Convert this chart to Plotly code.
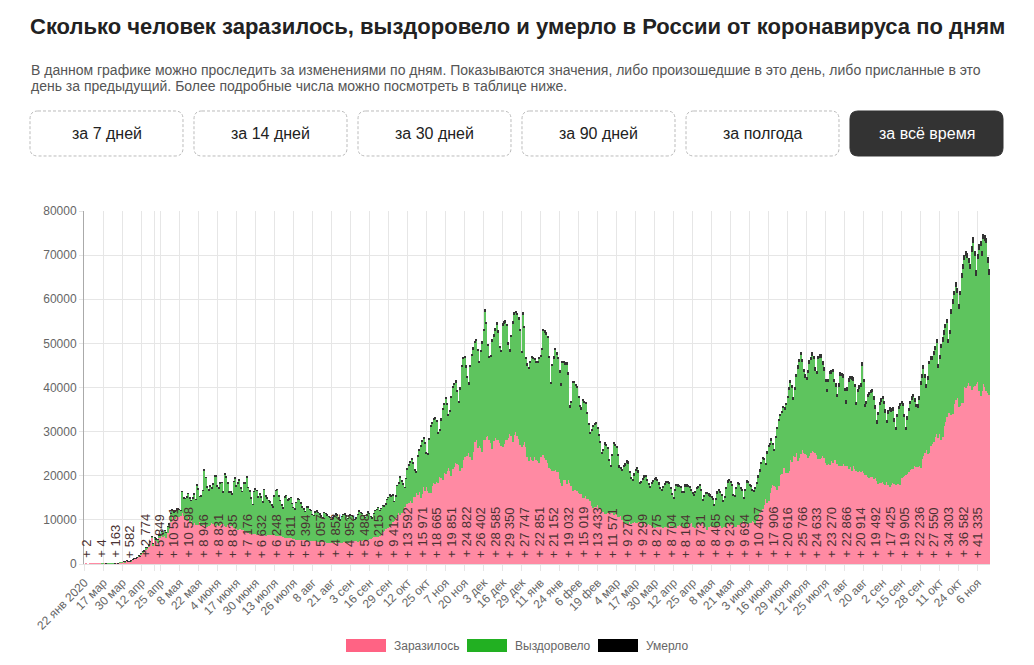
import plotly.graph_objects as go

# daily values, one entry per category (22 Jan 2020 ... 14 Nov 2021)
infected = [
    0, 2, 1, 1, 6, 3, 4, 3, 8, 6,
    11, 4, 30, 21, 33, 52, 54, 53, 61, 71,
    57, 163, 182, 196, 228, 270, 302, 500, 440, 771,
    601, 582, 658, 954, 1154, 1175, 1459, 1786, 1667, 2186,
    2558, 2774, 3388, 3448, 4070, 4785, 6060, 4268, 5642, 5236,
    4774, 5849, 5966, 6361, 6198, 6411, 5841, 7099, 7933, 9623,
    10633, 10581, 10102, 10559, 11231, 10699, 10817, 11656, 10899, 10028,
    9974, 10598, 9200, 9709, 8926, 9263, 8764, 8849, 8894, 9434,
    8599, 8946, 8915, 8338, 8371, 8572, 8952, 9268, 9035, 8863,
    8536, 8831, 8726, 8855, 8984, 8985, 8595, 8404, 8779, 8987,
    8706, 8835, 8246, 8248, 7843, 7790, 7972, 7889, 7728, 7600,
    7425, 7176, 7113, 6800, 6852, 6791, 6719, 6693, 6556, 6760,
    6718, 6632, 6736, 6611, 6368, 6562, 6509, 6635, 6611, 6615,
    6537, 6248, 6422, 6428, 6406, 6234, 6109, 5940, 5842, 5862,
    5848, 5811, 5871, 5765, 5635, 5475, 5395, 5509, 5482, 5462,
    5427, 5394, 5159, 5204, 5267, 5241, 5212, 5189, 5118, 5102,
    5041, 5057, 5061, 5065, 4969, 4892, 4748, 4790, 4767, 4870,
    4921, 4852, 4969, 4676, 4696, 4711, 4829, 4980, 4897, 4729,
    4729, 4952, 4995, 5110, 5205, 5195, 5185, 5099, 5218, 5363,
    5310, 5488, 5449, 5509, 5529, 5670, 5762, 5905, 6065, 6148,
    6196, 6215, 6431, 6595, 7212, 7523, 7867, 8135, 8232, 8481,
    8945, 9412, 9859, 10499, 10888, 11615, 11115, 11493, 12126, 12846,
    13634, 13592, 13868, 14231, 13754, 15150, 15099, 15982, 15700, 16319,
    14922, 15971, 17340, 16521, 17347, 16550, 16202, 16202, 17717, 18283,
    18140, 18665, 18257, 19768, 19404, 19089, 20582, 20498, 20977, 21798,
    20977, 19851, 21608, 21983, 22778, 22572, 22410, 20985, 21798, 23610,
    24318, 24822, 24581, 25173, 24326, 23675, 25487, 27543, 28145, 26338,
    26683, 26402, 25345, 28145, 28209, 28782, 29039, 28142, 27410, 26097,
    27927, 28585, 28137, 28080, 27328, 26689, 26509, 27215, 28214, 28209,
    28552, 29350, 28948, 27671, 29258, 29935, 29018, 28284, 27039, 26513,
    27002, 27747, 26513, 24246, 23351, 24150, 23541, 23309, 24217, 23652,
    23309, 22851, 24217, 24715, 24763, 24092, 23541, 22857, 21734, 21513,
    21127, 21152, 21262, 20921, 20766, 19290, 18359, 17741, 19138, 19106,
    18241, 19032, 18359, 17648, 16643, 16714, 16688, 16627, 16048, 15916,
    15977, 15019, 14861, 15419, 14726, 14711, 14185, 13233, 12742, 12828,
    12953, 13433, 12742, 12604, 12022, 11823, 11359, 11440, 11534, 11611,
    11534, 11571, 11024, 11385, 11279, 10595, 10565, 10867, 9908, 9445,
    9079, 9270, 9150, 9437, 8998, 9284, 9437, 9195, 9215, 9632,
    9445, 9299, 8711, 9195, 9128, 8769, 9073, 8885, 8646, 8277,
    8162, 8275, 8306, 8316, 8317, 8294, 8061, 8328, 8304, 8173,
    8995, 8704, 8702, 8328, 8442, 8173, 8632, 8788, 8697, 8719,
    8053, 8164, 8271, 9073, 8995, 9270, 8367, 8380, 8195, 8807,
    8974, 8731, 9270, 9284, 8697, 8419, 7770, 8328, 8702, 8387,
    8419, 8465, 8380, 8556, 8947, 8554, 8217, 8457, 8331, 8489,
    8962, 9232, 9280, 8926, 8951, 8387, 8373, 8832, 8947, 9252,
    9299, 9694, 9268, 9035, 9145, 9338, 9282, 9633, 9619, 8961,
    9651, 10407, 11571, 11699, 12505, 13397, 14723, 13721, 14185, 16000,
    17262, 17906, 17611, 17378, 16715, 17594, 20182, 20393, 21665, 21658,
    20538, 20616, 21042, 23543, 23218, 24439, 24353, 25142, 23378, 23962,
    24818, 25766, 25082, 25018, 24702, 23947, 24439, 25116, 25704, 25293,
    25140, 24633, 23770, 23811, 24072, 24471, 23947, 22804, 22420, 22589,
    22420, 23270, 22804, 23564, 23508, 22589, 22116, 22120, 22144, 22660,
    22277, 22866, 22136, 21571, 21932, 21000, 22118, 21624, 21057, 20765,
    20992, 20914, 21058, 20564, 20112, 20185, 19630, 19509, 19706, 19630,
    19286, 19492, 18780, 18191, 18325, 18341, 18555, 18080, 17856, 18645,
    17856, 17425, 17837, 18341, 18178, 17946, 18063, 18178, 17911, 19454,
    19706, 19905, 20174, 20329, 20960, 21379, 21559, 21438, 22320, 21916,
    22056, 22236, 21744, 23888, 24522, 25110, 25781, 24932, 25133, 26821,
    27246, 27550, 28717, 29362, 28647, 29409, 28190, 28717, 31299, 32196,
    33208, 34303, 34325, 33740, 34073, 36339, 37141, 37678, 35660, 35811,
    36446, 36582, 40096, 39849, 40251, 40993, 40402, 39400, 40217, 40443,
    40735, 41335, 39165, 38058, 39160, 40759, 40123, 39256, 38823, 38300,
]

recovered = [
    0, 0, 0, 0, 0, 0, 0, 0, 0, 0,
    0, 0, 2, 1, 0, 1, 4, 1, 6, 5,
    7, 19, 0, 15, 21, 15, 21, 21, 17, 45,
    25, 45, 35, 120, 57, 58, 80, 57, 109, 121,
    224, 171, 239, 293, 224, 306, 164, 300, 350, 400,
    800, 700, 580, 900, 700, 1100, 1200, 1400, 1100, 1800,
    1600, 1200, 1700, 1900, 1300, 1600, 1200, 4700, 4000, 4800,
    5200, 5300, 5700, 4700, 6000, 6500, 5800, 9000, 8000, 5800,
    6800, 7700, 12300, 11200, 9000, 8000, 8600, 7900, 9000, 11000,
    11300, 8800, 8400, 9500, 9400, 7300, 11700, 11200, 9500, 7300,
    7600, 7000, 10400, 11100, 9800, 10500, 10900, 9200, 8700, 10700,
    10900, 12400, 10200, 9600, 8000, 6600, 9700, 10200, 10000, 8400,
    9000, 8500, 7300, 10200, 9000, 8300, 7800, 7400, 6700, 6200,
    8800, 10400, 10400, 8900, 7900, 7100, 6500, 9200, 9600, 8600,
    8800, 9200, 7800, 7000, 6800, 8400, 9300, 9000, 8200, 7400,
    7000, 6500, 7700, 7600, 7000, 6800, 6000, 5700, 6600, 6800,
    6600, 6200, 5800, 5400, 6600, 6500, 6300, 5900, 5700, 5200,
    5500, 6000, 6300, 6400, 5700, 5200, 5900, 6200, 6400, 6200,
    5500, 6000, 6100, 5800, 5500, 4900, 5200, 6100, 6700, 6300,
    6100, 5400, 5000, 5600, 6200, 5700, 4900, 4500, 5300, 6000,
    6200, 6500, 5600, 5900, 6000, 5600, 5600, 6500, 6800, 7000,
    6400, 6200, 4200, 4900, 6800, 6700, 8400, 7300, 5900, 4400,
    5700, 7800, 8400, 8700, 9900, 7600, 6200, 4700, 8600, 9500,
    11800, 11700, 11200, 10800, 7800, 8200, 12000, 15000, 14200, 14400,
    14900, 13600, 11400, 10400, 13200, 16000, 15500, 16900, 15100, 11800,
    13600, 17800, 18400, 18600, 18400, 16500, 14200, 18600, 22800, 22900,
    22400, 19700, 17700, 15600, 20300, 23400, 23100, 22500, 22400, 21900,
    18800, 21600, 24600, 24600, 29000, 25600, 20400, 18500, 19500, 24300,
    23500, 24300, 26100, 24300, 21600, 21300, 27500, 27200, 26400, 25700,
    21100, 18800, 22500, 26800, 27200, 26900, 27400, 27100, 25700, 21300,
    29400, 25700, 19900, 20700, 20800, 21400, 23200, 23200, 22000, 21800,
    22200, 23700, 22700, 23700, 28000, 28300, 28400, 28400, 25000, 19200,
    23700, 25300, 27200, 26500, 25700, 24100, 22200, 27700, 26400, 26000,
    26900, 23900, 17100, 18800, 24400, 24200, 23600, 23200, 21600, 19600,
    19100, 21900, 21600, 20800, 19200, 16800, 15300, 16800, 18200, 18700,
    18800, 17100, 16300, 15000, 13000, 13800, 15800, 15300, 14500, 11800,
    10600, 13000, 16100, 15400, 15100, 13900, 11400, 10800, 11300, 12600,
    13300, 13800, 13700, 11200, 10300, 9700, 10700, 11900, 12400, 11200,
    8800, 9100, 10400, 10500, 10600, 10100, 9000, 8500, 9500, 10400,
    10900, 11000, 10600, 9800, 8800, 8400, 9300, 9600, 10200, 10200,
    9200, 8400, 7100, 6500, 8200, 9600, 9000, 8700, 8700, 7400,
    8100, 9500, 9400, 8400, 8400, 7400, 7600, 7100, 7900, 8300,
    8400, 9100, 7400, 5200, 6500, 7500, 8200, 7300, 6700, 6700,
    6200, 4900, 6300, 7500, 7700, 7600, 7300, 5600, 6800, 8600,
    9600, 9700, 9100, 8900, 6600, 6800, 8800, 9400, 9000, 7800,
    7300, 5100, 7400, 9500, 9300, 8500, 8300, 7000, 6700, 8200,
    8500, 9300, 9500, 11000, 11300, 10200, 7900, 11400, 12400, 11000,
    10800, 9100, 8100, 11200, 13800, 14800, 13300, 13800, 13600, 13200,
    15400, 16900, 18300, 17400, 16600, 12700, 15000, 17200, 20900, 21900,
    22500, 20000, 18400, 17200, 17000, 19300, 20900, 21100, 21500, 21100,
    18700, 18400, 22700, 22900, 22700, 20700, 19900, 18400, 16500, 18600,
    20600, 19900, 20600, 17600, 16700, 15200, 18100, 20600, 20400, 19600,
    16900, 13500, 17100, 19700, 20000, 20700, 19400, 18400, 14900, 18200,
    18700, 19300, 23900, 20600, 15400, 16000, 18200, 18700, 19000, 19300,
    17900, 15700, 13000, 15500, 17600, 18400, 18800, 18100, 16400, 13200,
    16200, 17300, 16700, 16400, 14000, 12400, 15200, 16900, 17800, 16800,
    16000, 13300, 10100, 12400, 13700, 14800, 15600, 16300, 14400, 13600,
    13400, 14900, 18900, 18200, 19600, 17000, 14100, 16700, 20100, 19500,
    18900, 19900, 19800, 20700, 15800, 17100, 20800, 21700, 20700, 21300,
    21300, 15700, 17700, 23000, 24900, 24600, 25600, 23700, 22200, 25100,
    28400, 30300, 28700, 30000, 29100, 27300, 26400, 31400, 32600, 29400,
    24600, 27700, 32100, 34000, 30600, 32800, 33100, 33500, 29500, 27300,
]

deaths = [
    0, 0, 0, 0, 0, 0, 0, 0, 0, 0,
    0, 0, 0, 0, 0, 1, 0, 0, 0, 0,
    0, 1, 0, 1, 1, 0, 1, 7, 7, 4,
    4, 9, 2, 11, 11, 13, 13, 12, 18, 12,
    18, 24, 28, 36, 41, 42, 48, 51, 52, 57,
    42, 60, 66, 47, 49, 82, 108, 101, 96, 57,
    58, 76, 86, 86, 98, 88, 70, 94, 107, 96,
    93, 113, 119, 94, 91, 115, 135, 127, 150, 139,
    153, 92, 174, 161, 174, 232, 181, 138, 162, 182,
    178, 169, 144, 197, 134, 112, 171, 216, 174, 181,
    193, 114, 153, 194, 154, 182, 184, 161, 109, 153,
    154, 153, 92, 176, 188, 104, 93, 216, 154, 147,
    168, 168, 135, 104, 173, 198, 174, 186, 188, 130,
    104, 102, 175, 154, 111, 161, 147, 85, 135, 165,
    154, 147, 124, 85, 65, 147, 155, 150, 161, 95,
    70, 77, 144, 129, 129, 114, 70, 70, 77, 130,
    129, 119, 114, 119, 68, 60, 114, 121, 127, 121,
    98, 67, 71, 110, 122, 127, 118, 114, 111, 67,
    55, 123, 110, 121, 129, 104, 56, 114, 119, 112,
    132, 119, 65, 61, 125, 130, 144, 145, 150, 85,
    60, 116, 160, 169, 160, 145, 169, 93, 92, 160,
    186, 201, 186, 117, 121, 202, 239, 244, 201, 186,
    147, 139, 244, 239, 232, 279, 232, 222, 191, 317,
    286, 286, 317, 283, 279, 229, 320, 320, 366, 355,
    320, 245, 239, 320, 386, 378, 374, 349, 286, 256,
    368, 441, 439, 387, 411, 395, 294, 442, 456, 463,
    507, 467, 401, 393, 456, 524, 524, 510, 496, 491,
    569, 589, 589, 554, 496, 491, 499, 562, 561, 563,
    613, 613, 589, 560, 456, 481, 562, 597, 585, 585,
    599, 529, 561, 524, 572, 567, 556, 594, 510, 562,
    599, 570, 589, 504, 464, 482, 496, 510, 535, 550,
    456, 457, 561, 583, 575, 592, 561, 512, 471, 466,
    594, 591, 590, 571, 553, 523, 407, 595, 577, 568,
    559, 527, 481, 523, 532, 534, 506, 527, 513, 471,
    419, 466, 502, 513, 521, 497, 383, 466, 470, 444,
    441, 461, 453, 382, 366, 377, 441, 456, 461, 489,
    390, 408, 466, 427, 441, 452, 411, 364, 392, 437,
    436, 441, 442, 392, 368, 342, 387, 394, 371, 384,
    361, 382, 365, 380, 390, 390, 386, 381, 368, 364,
    393, 410, 396, 375, 350, 365, 400, 386, 386, 396,
    395, 391, 351, 363, 364, 389, 387, 386, 378, 374,
    351, 385, 380, 389, 374, 372, 351, 343, 380, 371,
    377, 367, 331, 300, 282, 338, 371, 389, 389, 376,
    359, 343, 342, 399, 399, 392, 387, 379, 339, 397,
    399, 395, 398, 392, 383, 348, 374, 402, 399, 393,
    408, 383, 355, 391, 394, 374, 393, 395, 393, 326,
    389, 393, 396, 398, 408, 416, 371, 418, 431, 453,
    440, 466, 419, 440, 490, 548, 545, 560, 601, 611,
    599, 652, 668, 672, 679, 697, 654, 663, 737, 669,
    726, 726, 752, 749, 740, 780, 791, 786, 799, 785,
    764, 784, 778, 793, 799, 794, 770, 780, 787, 789,
    799, 790, 799, 792, 795, 784, 781, 792, 790, 799,
    790, 770, 781, 772, 788, 799, 790, 789, 784, 768,
    799, 795, 781, 785, 770, 790, 793, 795, 787, 792,
    780, 769, 786, 796, 790, 798, 799, 796, 792, 779,
    790, 788, 792, 795, 799, 780, 775, 796, 790, 791,
    799, 796, 799, 792, 795, 798, 820, 828, 799, 822,
    828, 827, 852, 867, 887, 890, 881, 895, 883, 895,
    895, 929, 936, 962, 968, 957, 973, 984, 986, 999,
    1002, 999, 998, 1015, 1028, 1036, 1064, 1075, 1069, 1072,
    1106, 1123, 1159, 1163, 1160, 1163, 1178, 1178, 1195, 1189,
    1192, 1190, 1188, 1211, 1211, 1239, 1237, 1235, 1219, 1200,
]

# one label every 13 categories
tick_labels = [
    "22 янв 2020", "17 мар", "30 мар", "12 апр", "25 апр", "8 мая", "22 мая",
    "4 июня", "17 июня", "30 июня", "13 июля", "26 июля", "8 авг", "21 авг",
    "3 сен", "16 сен", "29 сен", "12 окт", "25 окт", "7 ноя", "20 ноя",
    "3 дек", "16 дек", "29 дек", "11 янв", "24 янв", "6 фев", "19 фев",
    "4 мар", "17 мар", "30 мар", "12 апр", "25 апр", "8 мая", "21 мая",
    "3 июня", "16 июня", "29 июня", "12 июля", "25 июля", "7 авг", "20 авг",
    "2 сен", "15 сен", "28 сен", "11 окт", "24 окт", "6 ноя",
]

series_names = ["Заразилось", "Выздоровело", "Умерло"]
legend_colors = ["#ff6384", "#22b022", "#000000"]
bar_colors = ["#ff8aa3", "#5ec45e", "#333333"]

title = "Сколько человек заразилось, выздоровело и умерло в России от коронавируса по дням"
desc_lines = [
    "В данном графике можно проследить за изменениями по дням. Показываются значения, либо произошедшие в это день, либо присланные в это",
    "день за предыдущий. Более подробные числа можно посмотреть в таблице ниже.",
]
buttons = ["за 7 дней", "за 14 дней", "за 30 дней", "за 90 дней", "за полгода", "за всё время"]

FONT = "Liberation Sans, Arial, sans-serif"
OFF = 8  # page body margin around the plot div
W, H = 1034 - OFF, 665 - OFF
L, R, T, B = 84, 990, 211, 564  # plot area in page pixels


def px(x):
    return (x - L) / (R - L)


def py(y):
    return (B - y) / (B - T)


def rounded_rect(x0, y0, x1, y1, r):
    pts = [
        ("M", x0 + r, y0), ("L", x1 - r, y0), ("Q", x1, y0, x1, y0 + r),
        ("L", x1, y1 - r), ("Q", x1, y1, x1 - r, y1), ("L", x0 + r, y1),
        ("Q", x0, y1, x0, y1 - r), ("L", x0, y0 + r), ("Q", x0, y0, x0 + r, y0),
    ]
    out = []
    for p in pts:
        cmd, coords = p[0], p[1:]
        pairs = [f"{px(coords[i]):.5f},{py(coords[i + 1]):.5f}" for i in range(0, len(coords), 2)]
        out.append(cmd + " ".join(pairs))
    return " ".join(out) + " Z"


x = list(range(len(infected)))

fig = go.Figure()
for name, vals, color in zip(series_names, [infected, recovered, deaths], bar_colors):
    fig.add_trace(go.Bar(x=x, y=vals, name=name, marker=dict(color=color, line=dict(width=0)),
                         showlegend=False))

annotations = []
shapes = []

# "+ N" labels every 10 days
for i in range(1, len(infected), 10):
    txt = "+ " + format(infected[i], ",").replace(",", " ")
    annotations.append(dict(x=i, y=0, xref="x", yref="y", text=txt, textangle=-90,
                            xanchor="center", yanchor="bottom", yshift=4, showarrow=False,
                            font=dict(family=FONT, size=13, color="#4a3232")))

annotations.append(dict(x=px(517), y=py(27), xref="paper", yref="paper", text=f"<b>{title}</b>",
                        showarrow=False, xanchor="center", yanchor="middle",
                        font=dict(family=FONT, size=22, color="#222222")))
for k, line in enumerate(desc_lines):
    annotations.append(dict(x=px(29), y=py(70 + 16 * k), xref="paper", yref="paper", text=line,
                            showarrow=False, xanchor="left", yanchor="middle",
                            font=dict(family=FONT, size=14, color="#555555")))

for k, label in enumerate(buttons):
    x0 = 30 + k * 164
    x1 = x0 + 153
    active = k == len(buttons) - 1
    shapes.append(dict(type="path", xref="paper", yref="paper", path=rounded_rect(x0, 111, x1, 156, 8),
                       fillcolor="#333333" if active else "rgba(0,0,0,0)",
                       line=dict(color="#333333" if active else "#bbbbbb", width=1,
                                 dash="solid" if active else "3px,2px")))
    annotations.append(dict(x=px((x0 + x1) / 2), y=py(133.5), xref="paper", yref="paper",
                            text=label, showarrow=False, xanchor="center", yanchor="middle",
                            font=dict(family=FONT, size=16, color="#ffffff" if active else "#222222")))

# legend drawn by hand (wide colour boxes)
legend_x = [346, 467, 598]
for lx, name, color in zip(legend_x, series_names, legend_colors):
    shapes.append(dict(type="rect", xref="paper", yref="paper", x0=px(lx), x1=px(lx + 40),
                       y0=py(652), y1=py(639), fillcolor=color, line=dict(width=0)))
    annotations.append(dict(x=px(lx + 46), y=py(645.5), xref="paper", yref="paper", text=name,
                            showarrow=False, xanchor="left", yanchor="middle",
                            font=dict(family=FONT, size=12, color="#666666")))

tickvals = [13 * i for i in range(len(tick_labels))] + [48]
ticktext = tick_labels + [""]

fig.update_layout(
    width=W, height=H,
    margin=dict(l=L - OFF, r=W - (R - OFF), t=T - OFF, b=H - (B - OFF)),
    paper_bgcolor="white", plot_bgcolor="white",
    barmode="stack", bargap=0.12,
    font=dict(family=FONT, size=12, color="#666666"),
    annotations=annotations, shapes=shapes,
    xaxis=dict(range=[-0.4, len(infected) - 0.6], tickvals=tickvals, ticktext=ticktext,
               tickangle=-45, showgrid=True, gridcolor="#e6e6e6", gridwidth=1,
               ticks="outside", ticklen=6, tickcolor="#e6e6e6", showline=True,
               linecolor="#e0e0e0", zeroline=False, tickfont=dict(size=12, color="#666666")),
    yaxis=dict(range=[0, 80000], dtick=10000, tickformat="d", showgrid=True,
               gridcolor="#e6e6e6", ticks="outside", ticklen=4, tickcolor="#e6e6e6",
               showline=True, linecolor="#aaaaaa", zeroline=False,
               tickfont=dict(size=12, color="#666666")),
)

fig.write_html("out.html")
